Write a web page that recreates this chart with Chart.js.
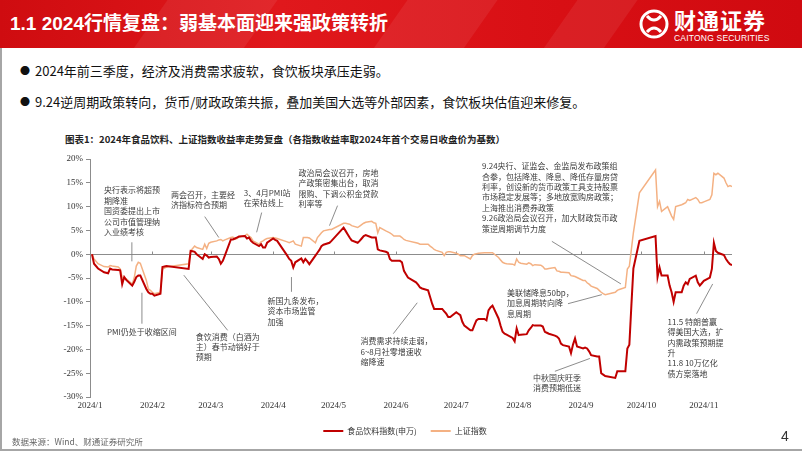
<!DOCTYPE html>
<html>
<head>
<meta charset="utf-8">
<script src="https://cdn.jsdelivr.net/npm/chart.js@4.4.1/dist/chart.umd.min.js"></script>
<style>
  body { margin: 0; width: 802px; height: 451px; overflow: hidden; background: #fff; position: relative;
         font-family: "Noto Sans CJK SC", sans-serif; }
  #banner { position: absolute; left: 0; top: 0; width: 802px; height: 48px; overflow: hidden;
            background: linear-gradient(90deg, #cf0c10 0%, #e0181c 35%, #d80f14 70%, #d00a10 100%); }
  .band { position: absolute; top: -10px; height: 70px; background: rgba(255,255,255,0.07); transform: skewX(-35deg); }
  #title { position: absolute; left: 10px; top: 9px; color: #fff; font-size: 19px; font-weight: 700;
           line-height: 30px; font-family: "Liberation Sans", "Noto Sans CJK SC", sans-serif; white-space: nowrap; }
  #logo { position: absolute; left: 638px; top: 8px; }
  #brand { position: absolute; left: 674px; top: 5px; color: #fff; font-size: 22px; font-weight: 700;
           line-height: 28px; letter-spacing: 1px; }
  #brand-en { position: absolute; left: 674px; top: 33px; color: #fff; font-size: 8.5px;
              font-family: "Liberation Sans", sans-serif; line-height: 10px; letter-spacing: 0.2px; }
  #frame { position: absolute; left: 0; top: 48px; width: 800px; height: 401px;
           border-left: 2px solid #a6a6a6; border-bottom: 2px solid #a6a6a6; }
  .bullet { position: absolute; left: 20px; font-size: 13px; color: #111; line-height: 18px; white-space: nowrap; }
  .bullet span { font-size: 10px; margin-right: 5px; position: relative; top: -1px; }
  #cap { position: absolute; left: 65px; top: 132px; font-size: 9.5px; font-weight: 700; color: #222;
         line-height: 14px; white-space: nowrap; }
  #src { position: absolute; left: 12px; top: 435px; font-size: 8.5px; color: #666; line-height: 12px; }
  #page { position: absolute; left: 781px; top: 428px; font-size: 14px; color: #333; font-family: "Liberation Sans", sans-serif; }
  #c { position: absolute; left: 0; top: 150px; }
</style>
</head>
<body>
<div id="banner">
  <div class="band" style="left:150px;width:110px"></div>
  <div class="band" style="left:390px;width:90px"></div>
  <div class="band" style="left:560px;width:60px"></div>
  <div id="title">1.1 2024行情复盘：弱基本面迎来强政策转折</div>
  <svg id="logo" width="32" height="32" viewBox="0 0 32 32">
    <circle cx="16" cy="16" r="13" fill="none" stroke="#fff" stroke-width="3"/>
    <path d="M9 8 Q16 16 23 8 M9 24 Q16 16 23 24" fill="none" stroke="#fff" stroke-width="3"/>
  </svg>
  <div id="brand">财通证券</div>
  <div id="brand-en">CAITONG SECURITIES</div>
</div>
<div id="frame"></div>
<div class="bullet" style="top:62px"><span>●</span>2024年前三季度，经济及消费需求疲软，食饮板块承压走弱。</div>
<div class="bullet" style="top:93px"><span>●</span>9.24逆周期政策转向，货币/财政政策共振，叠加美国大选等外部因素，食饮板块估值迎来修复。</div>
<div id="cap">图表1：2024年食品饮料、上证指数收益率走势复盘（各指数收益率取2024年首个交易日收盘价为基数）</div>
<canvas id="c" width="802" height="295"></canvas>
<div id="src">数据来源：Wind、财通证券研究所</div>
<div id="page">4</div>

<script>
// 交易日 (2024年, MM-DD)
const dates = [
  '01-02','01-03','01-05','01-08','01-10','01-11','01-12','01-15','01-16','01-17','01-18','01-19','01-22','01-23','01-24','01-25','01-26','01-29','01-30','01-31',
  '02-01','02-02','02-05','02-06','02-07','02-08','02-19','02-20','02-21','02-22','02-23','02-26','02-27','02-28','02-29',
  '03-01','03-04','03-05','03-06','03-07','03-08','03-11','03-12','03-13','03-14','03-15','03-18','03-19','03-20','03-21','03-22','03-25','03-26','03-27','03-28','03-29',
  '04-01','04-02','04-03','04-08','04-09','04-10','04-11','04-12','04-15','04-16','04-17','04-18','04-19','04-22','04-23','04-24','04-25','04-26','04-29','04-30',
  '05-06','05-07','05-08','05-09','05-10','05-13','05-14','05-15','05-16','05-17','05-20','05-21','05-22','05-23','05-24','05-27','05-28','05-29','05-30','05-31',
  '06-03','06-04','06-05','06-06','06-07','06-11','06-12','06-13','06-14','06-17','06-18','06-19','06-20','06-21','06-24','06-25','06-26','06-27','06-28',
  '07-01','07-02','07-03','07-04','07-05','07-08','07-09','07-10','07-11','07-12','07-15','07-16','07-17','07-18','07-19','07-22','07-23','07-24','07-25','07-26','07-29','07-30','07-31',
  '08-01','08-02','08-05','08-06','08-07','08-08','08-09','08-12','08-13','08-14','08-15','08-16','08-19','08-20','08-21','08-22','08-23','08-26','08-27','08-28','08-29','08-30',
  '09-02','09-03','09-04','09-05','09-06','09-09','09-10','09-11','09-12','09-13','09-18','09-19','09-20','09-23','09-24','09-25','09-26','09-27','09-30',
  '10-08','10-09','10-10','10-11','10-14','10-15','10-16','10-17','10-18','10-21','10-22','10-23','10-24','10-25','10-28','10-29','10-30','10-31',
  '11-01','11-04','11-05','11-06','11-07','11-08','11-11','11-12','11-13','11-14','11-15'
];

// 食品饮料指数(申万) 收益率 %
const foodBev = [
  0, -2.0, -3.0, -3.8, -4.0, -3.0, -3.2, -3.3, -3.4, -6.3, -4.8, -5.4, -6.6, -5.8, -4.8, -4.5, -4.5, -7.3, -8.0, -8.3,
  -8.3, -8.7, -8.3, -2.7, -2.6, -2.5, -3.1, 0.7, 0.6, 0.5, 0.0, -1.0, 0.0, -0.3, -0.7,
  -0.6, -0.5, -1.0, -2.0, -1.4, -0.3, 3.1, 3.1, 3.3, 3.5, 3.7, 3.8, 3.3, 3.5, 2.8, 2.4, 1.7, 2.1, 1.4, 1.4, 2.4,
  3.3, 3.0, 2.8, -0.3, -1.0, -1.4, -2.8, -1.7, -0.9, -1.7, -1.0, -1.5, -2.1, -0.3, 0.3, 0.9, 1.7, 2.0, 2.4, 2.8,
  5.6, 4.9, 4.2, 3.5, 2.9, 2.4, 2.8, 3.3, 3.8, 4.0, 3.5, 3.5, 3.5, 1.0, 0.8, 0.5, 0.3, -1.0, -1.4, -1.4,
  -1.4, -1.7, -3.5, -4.2, -4.9, -5.9, -6.4, -7.0, -7.2, -7.6, -9.0, -10.4, -11.5, -11.5, -11.5, -12.0, -12.5, -13.2, -13.2,
  -12.2, -12.5, -12.8, -14.2, -15.0, -16.0, -16.0, -14.9, -13.9, -13.6, -13.6, -13.9, -11.8, -11.2, -10.8, -13.5, -15.0, -16.3, -16.7, -16.9, -17.6, -18.3, -15.6,
  -17.0, -16.9, -16.8, -16.0, -15.5, -14.9, -15.0, -15.0, -15.2, -16.3, -16.5, -16.7, -17.1, -17.3, -17.7, -18.8, -19.1, -19.4, -20.8, -19.0, -17.7, -19.4,
  -19.8, -19.6, -19.8, -20.4, -21.2, -21.5, -21.5, -25.0, -25.3, -25.6, -26.0, -24.6, -24.6, -24.6, -19.8, -19.0, -10.8, -3.0, 2.8,
  3.8, -4.8, -2.8, -4.5, -4.5, -6.6, -8.0, -10.0, -8.0, -8.0, -6.6, -5.9, -6.3, -5.2, -4.5, -5.9, -6.6, -6.1,
  -5.6, -4.9, -3.1, 2.4, 0.7, 0.3, -0.2, -1.0, -1.6, -2.1, -2.3
];

// 上证指数 收益率 %
const sse = [
  0, -1.0, -2.0, -2.6, -2.7, -2.4, -2.5, -2.7, -3.1, -4.9, -5.0, -5.2, -6.3, -4.9, -2.5, -1.7, -1.9, -5.5, -7.3, -7.6,
  -8.0, -8.3, -8.0, -3.1, -2.9, -2.7, -2.0, 0.7, 1.2, 1.7, 1.4, 1.0, 2.1, 1.2, 2.3,
  2.5, 2.8, 3.0, 3.1, 2.8, 3.0, 3.5, 3.6, 3.1, 3.3, 3.6, 3.9, 4.2, 3.8, 3.5, 2.8, 2.1, 2.6, 2.8, 3.1, 3.3,
  3.5, 3.4, 3.3, 2.6, 2.4, 2.6, 2.8, 2.1, 1.7, 3.5, 3.5, 3.5, 3.4, 2.4, 3.5, 4.0, 4.5, 4.9, 5.2, 5.2,
  6.5, 6.5, 6.4, 6.3, 6.0, 5.6, 5.9, 6.2, 6.5, 6.7, 6.9, 6.6, 6.5, 4.5, 5.6, 4.9, 4.7, 4.5, 4.2, 3.8,
  3.8, 3.5, 3.1, 2.9, 2.8, 2.4, 2.3, 2.1, 2.1, 2.1, 1.7, 1.4, 1.0, 0.8, 0.4, -0.3, 0.4, 0.5, 0.5,
  0.2, 0.0, -0.3, -0.3, -0.3, -1.0, -0.3, 0.0, 0.1, 0.2, 0.3, 0.3, 0.3, 0.3, 0.3, -0.7, -1.2, -1.7, -1.9, -2.0, -2.1, -2.3, -1.0,
  -1.7, -1.9, -2.1, -1.8, -2.0, -2.4, -2.2, -2.3, -2.6, -3.1, -3.1, -3.0, -2.8, -3.5, -3.6, -3.8, -3.8, -3.9, -4.5, -4.6, -4.7, -4.9,
  -5.5, -5.5, -6.0, -6.3, -6.7, -7.2, -7.6, -8.0, -8.3, -8.5, -8.0, -7.6, -7.4, -7.0, -3.1, -2.5, 1.0, 4.5, 12.9,
  17.7, 10.0, 11.1, 9.0, 10.0, 9.0, 8.0, 7.3, 10.0, 10.4, 10.6, 10.8, 11.5, 11.3, 11.9, 11.5, 10.8, 10.8,
  11.0, 11.5, 12.5, 17.0, 16.7, 17.0, 16.0, 15.0, 14.2, 14.4, 14.2
];

const monthLabels = ['2024/1','2024/2','2024/3','2024/4','2024/5','2024/6','2024/7','2024/8','2024/9','2024/10','2024/11'];
const seriesNames = ['食品饮料指数(申万)', '上证指数'];

const RED = '#C00000';
const ORANGE = '#F4B183';

// 注释: at = [距1/1天数, 收益率%] 为首行文字位置, line = 引线两端
const notes = [
  { at: [6.9, 13.4], text: ['央行表示将超预', '期降准', '国资委提出上市', '公司市值管理纳', '入业绩考核'], line: [[20.8, 2.5], [20.8, -1.5]] },
  { at: [40.2, 12.5], text: ['两会召开，主要经', '济指标符合预期'], line: [[57, 7.9], [64, 3.5]] },
  { at: [76.4, 12.9], text: ['3、4月PMI站', '在荣枯线上'], line: [[85.3, 8.75], [82.8, 4.6]] },
  { at: [103.6, 17.1], text: ['政治局会议召开，房地', '产政策密集出台，取消', '限购、下调公积金贷款', '利率等'], line: [[123, 10.2], [119, 6.0]] },
  { at: [88.2, -9.8], text: ['新国九条发布，', '资本市场监管', '加强'], line: [[100.1, -4.8], [100.1, -7.9]] },
  { at: [8.4, -16.25], text: ['PMI仍处于收缩区间'], line: [[25.8, -8.1], [25.8, -14.6]] },
  { at: [52.6, -17.3], text: ['食饮消费（白酒为', '主）春节动销好于', '预期'], line: [[46.6, -4.4], [68.4, -16]] },
  { at: [134.4, -18.3], text: ['消费需求持续走弱，', '6~8月社零增速收', '缩降速'], line: [[162.6, -10.2], [150.7, -16.7]] },
  { at: [194.8, 18.5], text: ['9.24央行、证监会、金监局发布政策组', '合拳，包括降准、降息、降低存量房贷', '利率，创设新的货币政策工具支持股票',
      '市场稳定发展等；多地放宽购房政策；', '上海推出消费券政策', '9.26政治局会议召开，加大财政货币政', '策逆周期调节力度'], line: [[229.5, 2.7], [263.8, -6.25]] },
  { at: [207.2, -8.1], text: ['美联储降息50bp，', '加息周期转向降', '息周期'], line: [[237.5, -10.4], [254.3, -8.5]] },
  { at: [220.1, -26], text: ['中秋国庆旺季', '消费预期低迷'], line: [[231, -24.6], [248.4, -21.9]] },
  { at: [287, -14.2], text: ['11.5 特朗普赢', '得美国大选，扩', '内需政策预期提', '升', '11.8 10万亿化', '债方案落地'], line: [[309.4, -6.25], [301.4, -12.5]] }
];

function dayOfYear(md) {
  const [m, d] = md.split('-').map(Number);
  return (Date.UTC(2024, m - 1, d) - Date.UTC(2024, 0, 1)) / 86400000;
}
const monthStarts = monthLabels.map((_, i) => dayOfYear(String(i + 1).padStart(2, '0') + '-01'));
const xs = dates.map(dayOfYear);
const lastDay = xs[xs.length - 1];

const TICK_FONT = { family: '"Liberation Serif", serif', size: 9 };

// 0%线和月份刻度
const zeroLine = {
  id: 'zeroLine',
  beforeDatasetsDraw(chart) {
    const { ctx, chartArea, scales: { x, y } } = chart;
    const y0 = Math.round(y.getPixelForValue(0)) + 0.5;
    ctx.save();
    ctx.strokeStyle = '#8c8c8c';
    ctx.lineWidth = 1;
    ctx.beginPath();
    ctx.moveTo(chartArea.left, y0);
    ctx.lineTo(chartArea.right, y0);
    monthStarts.slice(1).forEach(d => {
      const px = Math.round(x.getPixelForValue(d)) + 0.5;
      ctx.moveTo(px, y0);
      ctx.lineTo(px, y0 - 3);
    });
    ctx.stroke();
    ctx.restore();
  }
};

const notePlugin = {
  id: 'notes',
  afterDatasetsDraw(chart) {
    const { ctx, scales: { x, y } } = chart;
    ctx.save();
    ctx.strokeStyle = '#7f7f7f';
    ctx.lineWidth = 0.9;
    ctx.fillStyle = '#3c3c3c';
    ctx.font = '8px "Noto Sans CJK SC"';
    ctx.textBaseline = 'middle';
    notes.forEach(n => {
      ctx.beginPath();
      ctx.moveTo(x.getPixelForValue(n.line[0][0]), y.getPixelForValue(n.line[0][1]));
      ctx.lineTo(x.getPixelForValue(n.line[1][0]), y.getPixelForValue(n.line[1][1]));
      ctx.stroke();
      const tx = x.getPixelForValue(n.at[0]);
      const ty = y.getPixelForValue(n.at[1]);
      n.text.forEach((t, i) => ctx.fillText(t, tx, ty + i * 10.4));
    });
    ctx.restore();
  }
};

// 图例整体右移, 居中于整幅图下方
const legendShift = {
  id: 'legendShift',
  afterLayout(chart) {
    chart.legend.left += 39;
    chart.legend.right += 39;
  }
};

new Chart(document.getElementById('c'), {
  type: 'line',
  data: {
    datasets: [
      {
        label: seriesNames[0],
        data: xs.map((d, i) => ({ x: d, y: foodBev[i] })),
        borderColor: RED,
        backgroundColor: RED,
        borderWidth: 2,
        pointRadius: 0,
        tension: 0,
        order: 0
      },
      {
        label: seriesNames[1],
        data: xs.map((d, i) => ({ x: d, y: sse[i] })),
        borderColor: ORANGE,
        backgroundColor: ORANGE,
        borderWidth: 1.5,
        pointRadius: 0,
        tension: 0,
        order: 1
      }
    ]
  },
  options: {
    responsive: false,
    animation: false,
    layout: { padding: { top: 9, right: 70, bottom: 0, left: 0 } },
    plugins: {
      legend: {
        position: 'bottom',
        labels: {
          boxWidth: 20,
          boxHeight: 2,
          padding: 14,
          color: '#333',
          font: { family: '"Noto Sans CJK SC"', size: 8 },
          generateLabels: chart => Chart.defaults.plugins.legend.labels.generateLabels(chart)
            .map(l => Object.assign(l, { lineWidth: 0 }))
        }
      },
      tooltip: { enabled: false }
    },
    scales: {
      x: {
        type: 'linear',
        min: 0,
        max: lastDay,
        grid: { display: false, drawTicks: false },
        border: { display: false },
        afterBuildTicks: s => { s.ticks = monthStarts.map(v => ({ value: v })); },
        afterFit: s => { s.height = 16; },
        ticks: {
          autoSkip: false,
          maxRotation: 0,
          padding: 3,
          color: '#333',
          font: TICK_FONT,
          callback: (v, i) => monthLabels[i]
        }
      },
      y: {
        min: -30,
        max: 20,
        afterFit: s => { s.width = 90; },
        grid: { drawOnChartArea: false, tickLength: 4, color: '#8c8c8c' },
        border: { color: '#8c8c8c' },
        ticks: {
          stepSize: 5,
          padding: 3,
          color: '#333',
          font: TICK_FONT,
          callback: v => v + '%'
        }
      }
    }
  },
  plugins: [zeroLine, notePlugin, legendShift]
});
</script>
</body>
</html>
